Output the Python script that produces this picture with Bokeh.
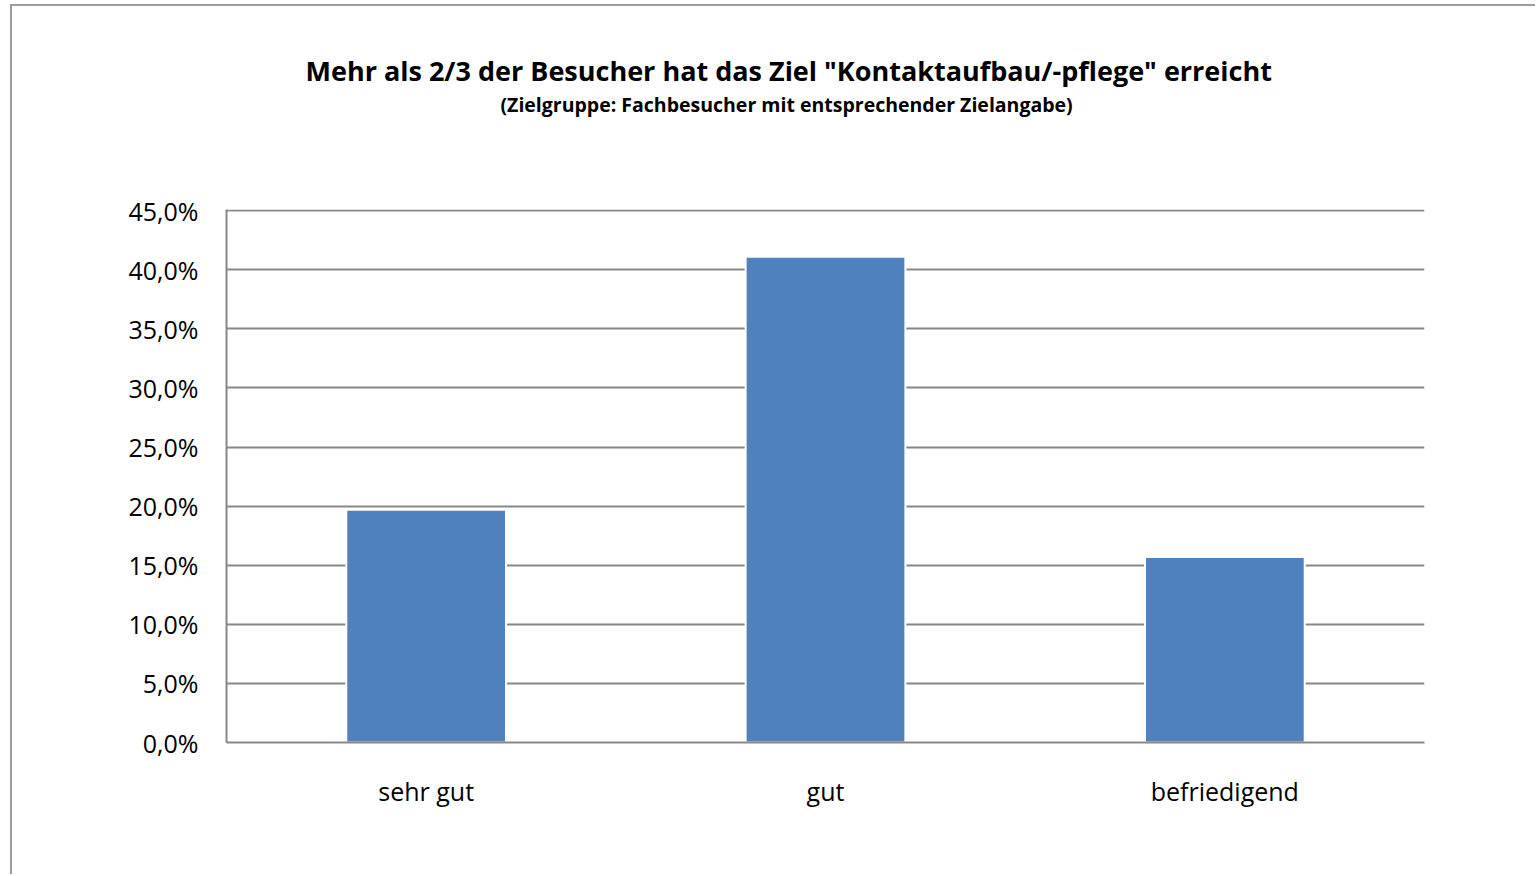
from bokeh.plotting import figure
from bokeh.models import FactorRange, Range1d, FixedTicker, Title, ColumnDataSource
from bokeh.embed import file_html
from bokeh.resources import INLINE

# ---- data ----
categories = ["sehr gut", "gut", "befriedigend"]
values = [19.7, 41.1, 15.7]
y_ticks = [0, 5, 10, 15, 20, 25, 30, 35, 40, 45]
y_tick_labels = ["0,0%", "5,0%", "10,0%", "15,0%", "20,0%", "25,0%",
                 "30,0%", "35,0%", "40,0%", "45,0%"]
title_text = 'Mehr als 2/3 der Besucher hat das Ziel "Kontaktaufbau/-pflege" erreicht'
subtitle_text = "(Zielgruppe: Fachbesucher mit entsprechender Zielangabe)"

GRID = "#878787"
FONT = "Open Sans"

p = figure(
    x_range=FactorRange(*categories, range_padding=0),
    y_range=Range1d(0, 45.1),
    width=1525, height=870,
    output_backend="svg", toolbar_location=None,
    min_border_left=214, min_border_right=113,
    min_border_top=203, min_border_bottom=134,
    styles={"margin-left": "10px", "margin-top": "4px",
            "border-top": "2px solid #9c9c9c", "border-left": "2px solid #9c9c9c"},
)
p.title = None
p.outline_line_color = None
p.background_fill_color = "white"
p.border_fill_color = "white"

src = ColumnDataSource(dict(cat=categories, val=values))
p.vbar(x="cat", top="val", width=0.4, source=src,
       fill_color="#4F81BD", line_color="white", line_width=2)

# grid
p.xgrid.grid_line_color = None
p.ygrid.grid_line_color = GRID
p.ygrid.grid_line_width = 2

# y axis
p.yaxis.ticker = FixedTicker(ticks=y_ticks)
p.yaxis.major_label_overrides = {t: l for t, l in zip(y_ticks, y_tick_labels)}
p.yaxis.major_tick_line_color = None
p.yaxis.major_tick_out = 0
p.yaxis.minor_tick_line_color = None
p.yaxis.axis_line_color = GRID
p.yaxis.axis_line_width = 2
p.yaxis.major_label_standoff = 28
p.yaxis.major_label_text_font = FONT
p.yaxis.major_label_text_font_size = "25px"
p.yaxis.major_label_text_color = "black"

# x axis
p.xaxis.major_tick_line_color = None
p.xaxis.major_tick_out = 0
p.xaxis.minor_tick_line_color = None
p.xaxis.axis_line_color = GRID
p.xaxis.axis_line_width = 2
p.xaxis.major_label_standoff = 31
p.xaxis.major_label_text_font = FONT
p.xaxis.major_label_text_font_size = "25px"
p.xaxis.major_label_text_color = "black"

# titles (first added sits closest to the plot frame); a blank spacer first
p.add_layout(Title(text=" ", standoff=73, text_font_size="16px"), "above")
p.add_layout(Title(text=subtitle_text, align="left", offset=274, standoff=0,
                   text_font=FONT, text_font_style="bold", text_font_size="19.5px",
                   text_color="black"), "above")
p.add_layout(Title(text=title_text, align="left", offset=79, standoff=0,
                   text_font=FONT, text_font_style="bold", text_font_size="27px",
                   text_color="black"), "above")

open("out.html", "w").write(file_html(p, INLINE))
